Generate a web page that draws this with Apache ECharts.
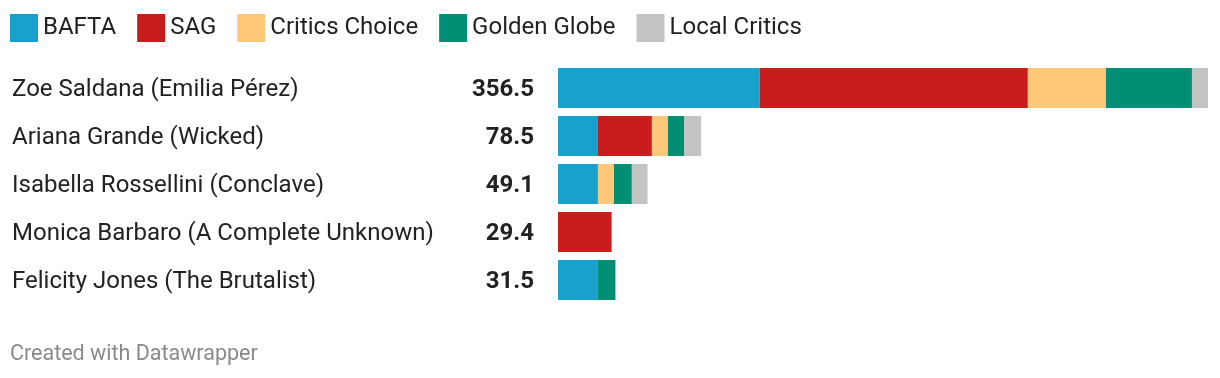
<!DOCTYPE html>
<html>
<head>
<meta charset="utf-8">
<script src="https://cdn.jsdelivr.net/npm/echarts@6/dist/echarts.min.js"></script>
<style>
  html, body { margin: 0; padding: 0; background: #fff; }
  #chart { width: 1220px; height: 378px; }
</style>
</head>
<body>
<div id="chart"></div>
<script>
const actresses = [
  'Zoe Saldana (Emilia Pérez)',
  'Ariana Grande (Wicked)',
  'Isabella Rossellini (Conclave)',
  'Monica Barbaro (A Complete Unknown)',
  'Felicity Jones (The Brutalist)',
];
const totals = ['356.5', '78.5', '49.1', '29.4', '31.5'];

const bafta = [110.7, 21.9, 21.9, 0, 21.9];
const sag = [147.0, 29.6, 0, 29.4, 0];
const criticsChoice = [42.8, 8.8, 8.8, 0, 0];
const goldenGlobe = [47.2, 8.8, 9.8, 0, 9.6];
const localCritics = [8.8, 9.4, 8.6, 0, 0];

const seriesDefs = [
  { name: 'BAFTA', data: bafta, color: '#18a1cd' },
  { name: 'SAG', data: sag, color: '#c91d1d' },
  { name: 'Critics Choice', data: criticsChoice, color: '#fdc979' },
  { name: 'Golden Globe', data: goldenGlobe, color: '#008f75' },
  { name: 'Local Critics', data: localCritics, color: '#c4c4c4' },
];

const chart = echarts.init(document.getElementById('chart'));
const font = 'Roboto, "Noto Sans", sans-serif';

chart.setOption({
  animation: false,
  backgroundColor: '#fff',
  textStyle: { fontFamily: font },
  title: {
    text: 'Created with Datawrapper',
    left: 10,
    top: 344,
    padding: 0,
    textStyle: { fontSize: 21.5, fontWeight: 'normal', color: '#8a8a8a', fontFamily: font },
  },
  legend: {
    left: 10,
    top: 14,
    padding: 0,
    itemWidth: 28,
    itemHeight: 28,
    itemGap: 21,
    icon: 'rect',
    selectedMode: false,
    textStyle: { fontSize: 24, color: '#222', fontFamily: font, padding: [2, 0, 0, 0] },
    data: seriesDefs.map((s) => s.name),
  },
  grid: { left: 558, right: 12, top: 64, height: 240 },
  xAxis: {
    type: 'value',
    min: 0,
    max: 356.5,
    show: false,
  },
  yAxis: {
    type: 'category',
    inverse: true,
    data: actresses,
    axisLine: { show: false },
    axisTick: { show: false },
    splitLine: { show: false },
    axisLabel: {
      align: 'left',
      margin: 546,
      padding: [4, 0, 0, 0],
      formatter: (value, idx) => `{name|${value}}{val|${totals[idx]}}`,
      rich: {
        name: { width: 450, align: 'left', fontSize: 24, color: '#222', fontFamily: font },
        val: { width: 72, align: 'right', fontSize: 24, fontWeight: 'bold', color: '#222', fontFamily: font },
      },
    },
  },
  series: seriesDefs.map((s) => ({
    name: s.name,
    type: 'bar',
    stack: 'total',
    barWidth: 40,
    data: s.data,
    itemStyle: { color: s.color },
  })),
});
</script>
</body>
</html>
